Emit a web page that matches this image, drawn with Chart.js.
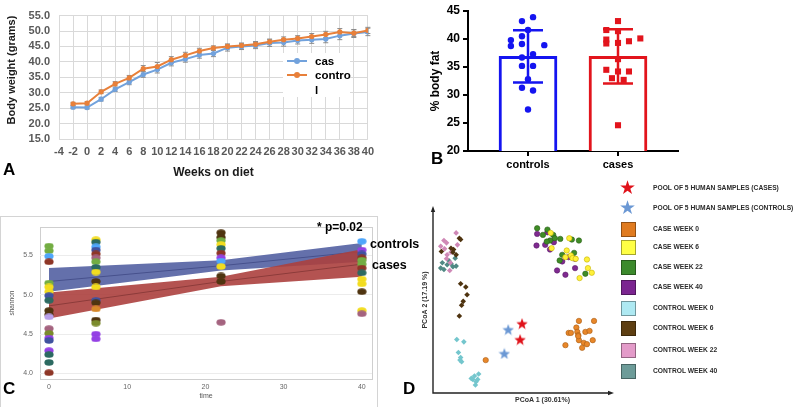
<!DOCTYPE html>
<html><head><meta charset="utf-8">
<script src="https://cdn.jsdelivr.net/npm/chart.js@4.4.1/dist/chart.umd.min.js"></script>
<style>
html,body{margin:0;padding:0;background:#fff;width:800px;height:407px;overflow:hidden;font-family:'Liberation Sans',Arial,sans-serif;}
canvas{position:absolute;}
.t{position:absolute;white-space:nowrap;}
.letter{position:absolute;font-weight:bold;font-size:17px;line-height:17px;color:#000;}
#legA{position:absolute;left:283px;top:53px;width:67px;height:44px;background:#fff;}
#legA .ln{position:absolute;left:4px;width:20px;height:2px;}
#legA .dot{position:absolute;left:11px;width:6px;height:6px;border-radius:50%;}
#legA .lab{position:absolute;left:32px;font-weight:bold;font-size:11.5px;line-height:14.5px;color:#000;}
#frameC{position:absolute;left:0;top:216px;width:376px;height:200px;border:1px solid #d4d4d4;}
.legD{position:absolute;left:653px;font-size:6.7px;font-weight:bold;color:#2a2a2a;line-height:8px;white-space:nowrap;}
.sq{position:absolute;left:621px;width:13px;height:13px;border:1px solid rgba(0,0,0,0.35);}
.star{position:absolute;left:617px;width:20px;text-align:center;font-size:19px;line-height:19px;}
</style></head><body>
<div id="frameC"></div>
<canvas id="cA" width="380" height="182" style="left:0;top:0"></canvas>
<canvas id="cB" width="290" height="175" style="left:400px;top:0"></canvas>
<canvas id="cC" width="377" height="191" style="left:0;top:216px"></canvas>
<canvas id="cD" width="200" height="212" style="left:420px;top:195px"></canvas>

<div id="legA">
  <div class="ln" style="top:7px;background:#72a2dc"></div><div class="dot" style="top:5px;background:#72a2dc"></div>
  <div class="ln" style="top:21px;background:#e8803a"></div><div class="dot" style="top:19px;background:#e8803a"></div>
  <div class="lab" style="top:1px">cas</div>
  <div class="lab" style="top:15px;width:37px;white-space:normal;word-break:break-all">control</div>
</div>

<div class="letter" style="left:3px;top:161px">A</div>
<div class="letter" style="left:431px;top:150px">B</div>
<div class="letter" style="left:3px;top:380px">C</div>
<div class="letter" style="left:403px;top:380px">D</div>

<div class="t" style="left:317px;top:220px;font-weight:bold;font-size:12px;line-height:14px">* p=0.02</div>
<div class="t" style="left:370px;top:237px;font-weight:bold;font-size:12.5px;line-height:14px">controls</div>
<div class="t" style="left:372px;top:258px;font-weight:bold;font-size:12.5px;line-height:14px">cases</div>

<div class="t" style="left:515px;top:396px;font-weight:bold;font-size:7px;line-height:8px;color:#333">PCoA 1 (30.61%)</div>

<div id="legendD"></div>

<script>
// ---------- Panel A data ----------
const weeks = [-2,0,2,4,6,8,10,12,14,16,18,20,22,24,26,28,30,32,34,36,38,40];
const casesWeight = [25.3,25.2,27.9,31.1,33.4,35.9,37.5,39.7,40.9,42.2,42.7,44.6,45.0,45.3,46.1,46.3,46.9,47.2,47.4,48.5,49.2,49.7];
const controlsWeight = [26.4,26.6,30.3,32.9,34.8,37.8,38.5,40.7,42.1,43.5,44.5,45.0,45.3,45.7,46.5,47.2,47.6,48.2,48.9,49.7,49.3,50.2];
const casesSD = [0.5,0.5,0.6,0.7,0.8,0.9,1.1,1.0,1.0,1.0,1.0,1.1,1.0,1.0,1.1,1.2,1.1,1.2,1.2,1.3,1.3,1.2];
const controlsSD = [0.5,0.5,0.6,0.7,0.8,1.0,1.3,1.0,1.0,0.9,0.7,0.8,0.8,0.9,0.9,0.9,0.9,1.0,1.0,1.1,1.1,1.0];

// ---------- Panel B data ----------
const groups = ['controls','cases'];
const groupMeans = [36.9, 36.9];
const groupSD = [4.65, 4.85];
const controlsFat = [43.9,43.2,41.6,40.5,39.8,38.75,39.1,38.9,36.7,37.3,35.2,35.2,32.8,31.3,30.8,27.4];
const controlsJitter = [0.056,-0.067,0,-0.067,-0.19,-0.19,-0.067,0.181,-0.067,0.056,-0.067,0.056,0,-0.067,0.056,0];
const casesFat = [43.2,41.6,41.4,39.9,39.2,39.3,39.6,40.1,36.4,34.5,34.2,34.2,33.0,32.7,24.6];
const casesJitter = [0,-0.13,0,-0.13,-0.13,0,0.122,0.248,0,-0.13,0,0.122,-0.067,0.063,0];

// ---------- Panel C data ----------
const times = [0,6,22,40];
const shannon0 = [5.62,5.56,5.49,5.42,5.15,5.10,5.04,4.99,4.93,4.80,4.75,4.72,4.57,4.51,4.45,4.42,4.29,4.24,4.14,4.01];
const shannon0Col = ['green','green','lblue','rbrown','green','yellow','yellow','dblue','teal','dbrown','dbrown','lavender','mauve','olive','purple','dblue','purple','teal','teal','rbrown'];
const shannon6 = [5.70,5.67,5.61,5.57,5.52,5.47,5.42,5.35,5.29,5.17,5.10,4.93,4.90,4.82,4.68,4.64,4.50,4.44];
const shannon6Col = ['yellow','teal','lblue','dblue','rbrown','mauve','green','teal','yellow','dbrown','yellow','dblue','dbrown','orange','dbrown','olive','purple','purple'];
const shannon22 = [5.79,5.73,5.69,5.64,5.59,5.53,5.47,5.43,5.36,5.24,5.17,4.65];
const shannon22Col = ['dbrown','dbrown','green','yellow','teal','rbrown','purple','lblue','yellow','dbrown','dbrown','mauve'];
const shannon40 = [5.68,5.57,5.52,5.47,5.44,5.39,5.34,5.28,5.20,5.14,5.04,4.80,4.76];
const shannon40Col = ['lblue','purple','dblue','rbrown','green','green','rbrown','teal','yellow','yellow','dbrown','yellow','mauve'];
const bandTime = [0,22,40];
const controlsFit = [5.17,5.37,5.55];
const controlsUpper = [5.34,5.44,5.66];
const controlsLower = [5.04,5.31,5.42];
const casesFit = [4.86,5.17,5.39];
const casesUpper = [5.03,5.23,5.58];
const casesLower = [4.70,5.11,5.23];

// ---------- Panel D data (PCoA1, PCoA2) ----------
const poolCases = [[-0.003,-0.071],[-0.009,-0.119]];
const poolControls = [[-0.046,-0.089],[-0.058,-0.161]];
const caseWeek0 = [[0.174,-0.063],[0.221,-0.063],[0.166,-0.083],[0.142,-0.099],[0.149,-0.099],[0.169,-0.096],[0.172,-0.106],[0.194,-0.096],[0.207,-0.093],[0.174,-0.121],[0.217,-0.121],[0.132,-0.136],[0.189,-0.129],[0.199,-0.133],[0.184,-0.144],[0.172,-0.109],[-0.116,-0.181]];
const caseWeek6 = [[0.086,0.202],[0.089,0.156],[0.144,0.186],[0.136,0.149],[0.149,0.134],[0.154,0.126],[0.132,0.129],[0.164,0.124],[0.199,0.122],[0.202,0.096],[0.214,0.082],[0.176,0.066]];
const caseWeek22 = [[0.044,0.216],[0.062,0.196],[0.076,0.212],[0.094,0.196],[0.099,0.186],[0.084,0.179],[0.074,0.176],[0.116,0.184],[0.152,0.182],[0.174,0.179],[0.122,0.136],[0.159,0.142],[0.194,0.079],[0.114,0.119]];
const caseWeek40 = [[0.044,0.199],[0.042,0.164],[0.076,0.204],[0.096,0.174],[0.069,0.166],[0.084,0.152],[0.122,0.116],[0.106,0.089],[0.132,0.076],[0.162,0.096],[0.142,0.129],[0.162,0.124]];
const controlWeek0 = [[-0.206,-0.119],[-0.184,-0.126],[-0.201,-0.158],[-0.194,-0.173],[-0.191,-0.186],[-0.196,-0.181],[-0.156,-0.239],[-0.146,-0.246],[-0.138,-0.223],[-0.141,-0.239],[-0.148,-0.256],[-0.161,-0.236],[-0.151,-0.229]];
const controlWeek6 = [[-0.198,0.186],[-0.194,0.182],[-0.254,0.146],[-0.224,0.156],[-0.216,0.152],[-0.218,0.144],[-0.208,0.136],[-0.194,0.049],[-0.178,0.039],[-0.174,0.016],[-0.186,-0.004],[-0.191,-0.016],[-0.198,-0.048]];
const controlWeek22 = [[-0.208,0.202],[-0.246,0.179],[-0.238,0.172],[-0.204,0.166],[-0.256,0.162],[-0.244,0.154],[-0.236,0.136],[-0.224,0.144],[-0.238,0.124],[-0.226,0.112],[-0.228,0.089]];
const controlWeek40 = [[-0.256,0.096],[-0.246,0.092],[-0.251,0.112],[-0.236,0.106],[-0.224,0.109],[-0.211,0.126],[-0.208,0.102],[-0.218,0.100],[-0.231,0.119]];
const legendDLabels = ['POOL OF 5 HUMAN SAMPLES (CASES)','POOL OF 5 HUMAN SAMPLES (CONTROLS)','CASE WEEK 0','CASE WEEK 6','CASE WEEK 22','CASE WEEK 40','CONTROL WEEK 0','CONTROL WEEK 6','CONTROL WEEK 22','CONTROL WEEK 40'];

// ---------- common ----------
Chart.defaults.font.family = "'Liberation Sans', Arial, sans-serif";
Chart.defaults.animation = false;
Chart.defaults.responsive = false;
Chart.defaults.plugins.legend.display = false;
Chart.defaults.plugins.tooltip.enabled = false;

// ---------- Chart A ----------
const errA = {id:'errA', beforeDatasetsDraw(chart){
  const {ctx, scales:{x,y}} = chart; ctx.save(); ctx.strokeStyle='#8c8c8c'; ctx.lineWidth=1;
  [[casesWeight,casesSD],[controlsWeight,controlsSD]].forEach(([vals,sds])=>{
    vals.forEach((v,i)=>{ const px=x.getPixelForValue(weeks[i]); const t=y.getPixelForValue(v+sds[i]); const b=y.getPixelForValue(v-sds[i]);
      ctx.beginPath(); ctx.moveTo(px,t); ctx.lineTo(px,b); ctx.moveTo(px-2.5,t); ctx.lineTo(px+2.5,t); ctx.moveTo(px-2.5,b); ctx.lineTo(px+2.5,b); ctx.stroke(); });
  }); ctx.restore(); }};
new Chart(document.getElementById('cA'), {
  type:'line',
  data:{datasets:[
    {label:'control', data:weeks.map((w,i)=>({x:w,y:controlsWeight[i]})), borderColor:'#e8803a', backgroundColor:'#e8803a', borderWidth:2, pointRadius:2.6, pointBorderWidth:0},
    {label:'cas', data:weeks.map((w,i)=>({x:w,y:casesWeight[i]})), borderColor:'#72a2dc', backgroundColor:'#72a2dc', borderWidth:2, pointRadius:2.6, pointBorderWidth:0}
  ]},
  options:{layout:{padding:{top:5,right:12,left:0,bottom:0}},
    scales:{
      x:{type:'linear',min:-4,max:40,afterFit(s){s.height=43;},
        ticks:{stepSize:2,autoSkip:false,maxRotation:0,color:'#595959',font:{size:11,weight:'bold'},padding:6},
        grid:{color:'#d9d9d9',drawTicks:false},border:{display:false},
        title:{display:true,text:'Weeks on diet',color:'#1a1a1a',font:{size:12,weight:'bold'},padding:{top:0,bottom:2}}},
      y:{min:15,max:55,afterFit(s){s.width=59;},
        ticks:{stepSize:5,autoSkip:false,callback:v=>v.toFixed(1),color:'#595959',font:{size:11,weight:'bold'},padding:9},
        grid:{color:'#d9d9d9',drawTicks:false},border:{display:false},
        title:{display:true,text:'Body weight (grams)',align:'end',color:'#1a1a1a',font:{size:11,weight:'bold'},padding:{top:5,bottom:0}}}
    }},
  plugins:[errA]
});

// ---------- Chart B ----------
const groupColors = ['#1414f0','#e2141c'];
const errB = {id:'errB', afterDatasetsDraw(chart){
  const {ctx, scales:{x,y}} = chart; ctx.save(); ctx.lineWidth=2.5;
  groupMeans.forEach((m,i)=>{ const px=x.getPixelForValue(i+1); const t=y.getPixelForValue(m+groupSD[i]); const b=y.getPixelForValue(m-groupSD[i]);
    ctx.strokeStyle=groupColors[i]; ctx.beginPath(); ctx.moveTo(px,t); ctx.lineTo(px,b); ctx.moveTo(px-15,t); ctx.lineTo(px+15,t); ctx.moveTo(px-15,b); ctx.lineTo(px+15,b); ctx.stroke(); });
  ctx.restore(); }};
new Chart(document.getElementById('cB'), {
  type:'scatter',
  data:{datasets:[
    {label:'controls', data:controlsFat.map((v,i)=>({x:1+controlsJitter[i],y:v})), pointStyle:'circle', pointRadius:3.2, backgroundColor:groupColors[0], borderWidth:0},
    {label:'cases', data:casesFat.map((v,i)=>({x:2+casesJitter[i],y:v})), pointStyle:'rect', pointRadius:4.3, backgroundColor:groupColors[1], borderWidth:0},
    {type:'bar', label:'mean', data:groupMeans.map((m,i)=>({x:i+1,y:m})), backgroundColor:'#ffffff', borderColor:groupColors, borderWidth:3, borderSkipped:'start', barThickness:58}
  ]},
  options:{layout:{padding:{top:11,right:12,left:0,bottom:0}},
    scales:{
      x:{type:'linear',min:1/3,max:8/3,offset:false,afterFit(s){s.height=24;},
        afterBuildTicks(s){ s.ticks = groups.map((g,i)=>({value:i+1})); },
        ticks:{callback:(v,i)=>groups[i],color:'#000',font:{size:11,weight:'bold'},padding:2,autoSkip:false,maxRotation:0},
        grid:{drawOnChartArea:false,offset:false,color:'#000',lineWidth:2,tickLength:5},border:{color:'#000',width:2}},
      y:{min:20,max:45,afterFit(s){s.width=68;},
        ticks:{stepSize:5,autoSkip:false,color:'#000',font:{size:12,weight:'bold'},padding:3},
        grid:{drawOnChartArea:false,color:'#000',lineWidth:2,tickLength:5},border:{color:'#000',width:2},
        title:{display:true,text:'% body fat',color:'#000',font:{size:12,weight:'bold'},padding:{top:28,bottom:0}}}
    }},
  plugins:[errB]
});

// ---------- Chart C ----------
const dotColors = {green:'#73ad43',lblue:'#4fa6fb',rbrown:'#8e3626',yellow:'#f2dc1f',dblue:'#40529f',teal:'#2c6a61',dbrown:'#4f3410',lavender:'#b9a0ea',mauve:'#a4637f',purple:'#9441e4',orange:'#d7882a',olive:'#7b8b2c'};
const ellImgs = {};
Object.keys(dotColors).forEach(k=>{ const c=document.createElement('canvas'); c.width=10; c.height=7; const g=c.getContext('2d'); g.fillStyle=dotColors[k]; g.beginPath(); g.ellipse(5,3.5,4.6,3.2,0,0,Math.PI*2); g.fill(); ellImgs[k]=c; });
const colSets = [[shannon0,shannon0Col],[shannon6,shannon6Col],[shannon22,shannon22Col],[shannon40,shannon40Col]];
const frameC = {id:'frameC', beforeDraw(chart){ const a=chart.chartArea, ctx=chart.ctx; ctx.save(); ctx.strokeStyle='#cfcfcf'; ctx.lineWidth=1; ctx.strokeRect(Math.round(a.left)+0.5,Math.round(a.top)+0.5,Math.round(a.right-a.left),Math.round(a.bottom-a.top)); ctx.restore(); }};
const dsC = colSets.map(([vals,cols],ti)=>({type:'scatter', label:'t'+times[ti], data:vals.map(v=>({x:times[ti],y:v})), pointStyle:cols.map(k=>ellImgs[k]), pointRadius:4, showLine:false}));
const bandDs = (vals)=>vals.map((v,i)=>({x:bandTime[i],y:v}));
dsC.push(
  {label:'cases fit', data:bandDs(casesFit), borderColor:'#8c3a3a', borderWidth:1, pointRadius:0, fill:false},
  {label:'cases upper', data:bandDs(casesUpper), borderWidth:0, pointRadius:0, fill:'+1', backgroundColor:'rgba(172,64,62,0.9)'},
  {label:'cases lower', data:bandDs(casesLower), borderWidth:0, pointRadius:0, fill:false},
  {label:'controls fit', data:bandDs(controlsFit), borderColor:'#46508c', borderWidth:1, pointRadius:0, fill:false},
  {label:'controls upper', data:bandDs(controlsUpper), borderWidth:0, pointRadius:0, fill:'+1', backgroundColor:'rgba(92,104,166,0.95)'},
  {label:'controls lower', data:bandDs(controlsLower), borderWidth:0, pointRadius:0, fill:false}
);
new Chart(document.getElementById('cC'), {
  type:'line',
  data:{datasets:dsC},
  options:{layout:{padding:{top:5,right:5,left:0,bottom:0}},
    scales:{
      x:{type:'linear',min:-1.15,max:41.3,afterFit(s){s.height=28;},
        ticks:{stepSize:10,includeBounds:false,color:'#666',font:{size:7},padding:4},
        grid:{display:false,drawTicks:false},border:{display:false},
        title:{display:true,text:'time',color:'#555',font:{size:7},padding:{top:0,bottom:6.5}}},
      y:{min:3.93,max:5.86,afterFit(s){s.width=40;},
        ticks:{stepSize:0.5,includeBounds:false,callback:v=>v.toFixed(1),color:'#666',font:{size:7},padding:7},
        grid:{color:'#ececec',drawTicks:false},border:{display:false},
        title:{display:true,text:'shannon',color:'#555',font:{size:6.5},padding:{top:8,bottom:0}}}
    }},
  plugins:[frameC]
});

// ---------- Chart D ----------
function starImg(color,size){ const c=document.createElement('canvas'); c.width=size; c.height=size; const g=c.getContext('2d'); const R=size/2, r=R*0.42; g.beginPath();
  for(let i=0;i<10;i++){ const a=-Math.PI/2+i*Math.PI/5; const rr=i%2?r:R; g.lineTo(R+rr*Math.cos(a), R*1.1+rr*Math.sin(a)); } g.closePath(); g.fillStyle=color; g.fill(); return c; }
const pt = arr => arr.map(p=>({x:p[0],y:p[1]}));
const arrows = {id:'arrows', afterDraw(chart){ const a=chart.chartArea, ctx=chart.ctx; ctx.save(); ctx.strokeStyle='#222'; ctx.fillStyle='#222'; ctx.lineWidth=1.4;
  ctx.beginPath(); ctx.moveTo(a.left,a.top+2); ctx.lineTo(a.left,a.bottom); ctx.lineTo(a.right-2,a.bottom); ctx.stroke();
  ctx.beginPath(); ctx.moveTo(a.left,a.top-1); ctx.lineTo(a.left-2.2,a.top+5); ctx.lineTo(a.left+2.2,a.top+5); ctx.closePath(); ctx.fill();
  ctx.beginPath(); ctx.moveTo(a.right+1,a.bottom); ctx.lineTo(a.right-5,a.bottom-2.2); ctx.lineTo(a.right-5,a.bottom+2.2); ctx.closePath(); ctx.fill();
  ctx.restore(); }};
const circ = (fill,border)=>({pointStyle:'circle',pointRadius:2.7,backgroundColor:fill,borderColor:border,borderWidth:0.6});
const diam = (fill)=>({pointStyle:'rectRot',pointRadius:2.8,backgroundColor:fill,borderColor:fill,borderWidth:0});
new Chart(document.getElementById('cD'), {
  type:'scatter',
  data:{datasets:[
    {label:legendDLabels[0], data:pt(poolCases), pointStyle:starImg('#e0121a',12), pointRadius:6},
    {label:legendDLabels[1], data:pt(poolControls), pointStyle:starImg('#6b98d4',12), pointRadius:6},
    Object.assign({label:legendDLabels[2], data:pt(caseWeek0)}, circ('#e8872a','#a85c14')),
    Object.assign({label:legendDLabels[3], data:pt(caseWeek6)}, circ('#fff03a','#c4b400')),
    Object.assign({label:legendDLabels[4], data:pt(caseWeek22)}, circ('#3f8c26','#2a5e18')),
    Object.assign({label:legendDLabels[5], data:pt(caseWeek40)}, circ('#7f2a90','#5a1a68')),
    Object.assign({label:legendDLabels[6], data:pt(controlWeek0)}, diam('#74c6cd')),
    Object.assign({label:legendDLabels[7], data:pt(controlWeek6)}, diam('#4e330f')),
    Object.assign({label:legendDLabels[8], data:pt(controlWeek22)}, diam('#cf88b6')),
    Object.assign({label:legendDLabels[9], data:pt(controlWeek40)}, diam('#4f8883'))
  ]},
  options:{layout:{padding:{top:12,right:2,left:0,bottom:0}},
    scales:{
      x:{min:-0.28,max:0.28,afterFit(s){s.height=14;},ticks:{display:false},grid:{display:false},border:{display:false}},
      y:{min:-0.28,max:0.28,afterFit(s){s.width=13;},ticks:{display:false},grid:{display:false},border:{display:false},
        title:{display:true,text:'PCoA 2 (17.19 %)',color:'#333',font:{size:7,weight:'bold'},padding:{top:1,bottom:0}}}
    }},
  plugins:[arrows]
});

// ---------- Legend D (HTML) ----------
const legRowsY = [188,208,229,247,267,287,308,328,350,371];
const legSwatch = ['star:#e0121a','star:#6b98d4','#e07b20','#ffff44','#3c8a2c','#7b2590','#aee9f2','#5e3f12','#e39bc9','#6d9c99'];
const legD = document.getElementById('legendD');
legendDLabels.forEach((lab,i)=>{
  const y = legRowsY[i]; const sw = legSwatch[i];
  if (sw.startsWith('star:')) {
    const s=document.createElement('div'); s.className='star'; s.style.top=(y-10)+'px'; s.style.color=sw.slice(5); s.textContent='\u2605'; legD.appendChild(s);
  } else {
    const s=document.createElement('div'); s.className='sq'; s.style.top=(y-7)+'px'; s.style.background=sw; legD.appendChild(s);
  }
  const t=document.createElement('div'); t.className='legD'; t.style.top=(y-4)+'px'; t.textContent=lab; legD.appendChild(t);
});
</script>
</body></html>
